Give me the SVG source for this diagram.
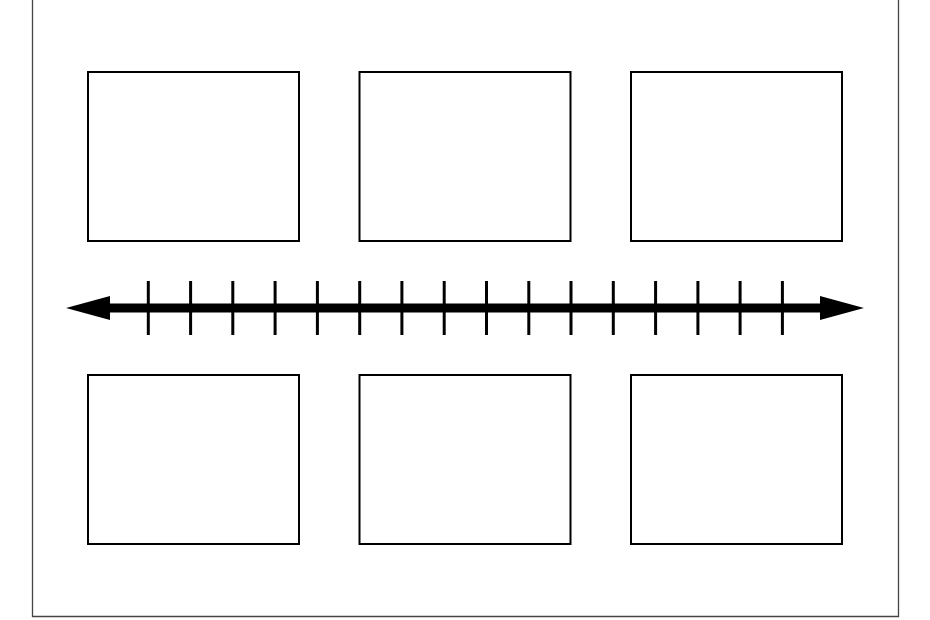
<svg xmlns="http://www.w3.org/2000/svg" width="930" height="620" viewBox="0 0 930 620">
<style>
.frame{fill:none;stroke:#444;stroke-width:1.3}
.box{fill:#fff;stroke:#000;stroke-width:2}
.tick{stroke:#000;stroke-width:3}
.axis{stroke:#000;stroke-width:9}
</style>
<rect x="0" y="0" width="930" height="620" fill="#fff"/>
<path class="frame" d="M32.5,-2 V616.5 H898.5 V-2"/>
<g id="box1"><rect class="box" x="88" y="72" width="211" height="169"/></g>
<g id="box2"><rect class="box" x="359.5" y="72" width="211" height="169"/></g>
<g id="box3"><rect class="box" x="631" y="72" width="211" height="169"/></g>
<g id="box4"><rect class="box" x="88" y="375" width="211" height="169"/></g>
<g id="box5"><rect class="box" x="359.5" y="375" width="211" height="169"/></g>
<g id="box6"><rect class="box" x="631" y="375" width="211" height="169"/></g>
<g id="timeline">
<line class="axis" x1="105" y1="308" x2="825" y2="308"/>
<polygon points="66,308 110,296 110,320" fill="#000"/>
<polygon points="864,308 820,296 820,320" fill="#000"/>
<g class="tick">
<line x1="148.3" y1="281" x2="148.3" y2="335"/>
<line x1="190.6" y1="281" x2="190.6" y2="335"/>
<line x1="232.8" y1="281" x2="232.8" y2="335"/>
<line x1="275.1" y1="281" x2="275.1" y2="335"/>
<line x1="317.4" y1="281" x2="317.4" y2="335"/>
<line x1="359.7" y1="281" x2="359.7" y2="335"/>
<line x1="401.9" y1="281" x2="401.9" y2="335"/>
<line x1="444.2" y1="281" x2="444.2" y2="335"/>
<line x1="486.5" y1="281" x2="486.5" y2="335"/>
<line x1="528.8" y1="281" x2="528.8" y2="335"/>
<line x1="571.0" y1="281" x2="571.0" y2="335"/>
<line x1="613.3" y1="281" x2="613.3" y2="335"/>
<line x1="655.6" y1="281" x2="655.6" y2="335"/>
<line x1="697.9" y1="281" x2="697.9" y2="335"/>
<line x1="740.1" y1="281" x2="740.1" y2="335"/>
<line x1="782.4" y1="281" x2="782.4" y2="335"/>
</g>
</g>
</svg>
